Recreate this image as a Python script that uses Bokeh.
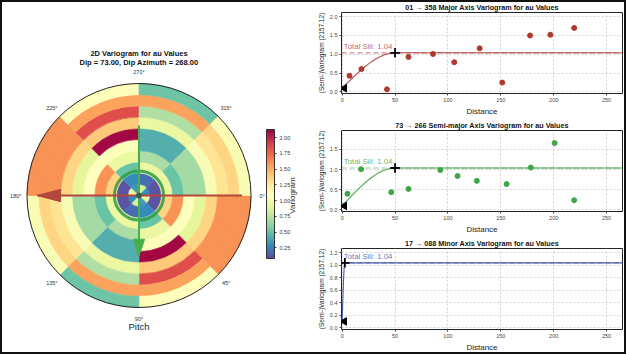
import numpy as np
from bokeh.plotting import figure
from bokeh.models import (Range1d, ColumnDataSource, LinearColorMapper, ColorBar,
                          FixedTicker, PrintfTickFormatter)
from bokeh.layouts import row, column
from bokeh.core.properties import value
from bokeh.embed import file_html
from bokeh.resources import INLINE

FONT = "Liberation Sans"

# ---------------- 2D variogram map data ----------------
ring_edges = [0, 1, 2, 3, 4, 5, 6, 7, 8, 9, 10]          # lag bins (ring units)
sector_edges = [0, 45, 90, 135, 180, 225, 270, 315, 360]  # degrees, clockwise from 0°
# variogram per sector, rings inner -> outer
sec_000_045 = [0.95, 0.10, 1.35, 1.60, 1.10, 0.92, 1.35, 1.60, 1.60, 1.60]
sec_045_090 = [0.35, 0.30, 0.50, 0.95, 1.08, 2.10, 1.40, 1.85, 1.55, 1.08]
sec_090_135 = [0.85, 0.20, 0.95, 0.70, 0.42, 0.42, 0.95, 0.72, 1.55, 0.52]
sec_135_180 = [0.30, 0.10, 0.95, 0.50, 0.68, 0.68, 1.05, 1.28, 1.35, 1.05]
sec_180_225 = [0.95, 0.10, 1.35, 1.60, 1.10, 0.92, 1.35, 1.60, 1.60, 1.60]
sec_225_270 = [0.35, 0.30, 0.50, 0.95, 1.08, 2.10, 1.40, 1.85, 1.55, 1.08]
sec_270_315 = [0.85, 0.20, 0.95, 0.70, 0.42, 0.42, 0.95, 0.72, 1.55, 0.52]
sec_315_360 = [0.30, 0.10, 0.95, 0.50, 0.68, 0.68, 1.05, 1.28, 1.35, 1.05]
sectors = [sec_000_045, sec_045_090, sec_090_135, sec_135_180,
           sec_180_225, sec_225_270, sec_270_315, sec_315_360]

angle_ticks = [0, 45, 90, 135, 180, 225, 270, 315]
angle_labels = ["0°", "45°", "90°", "135°", "180°", "225°", "270°", "315°"]

cbar_low, cbar_high = 0.08, 2.13
cbar_ticks = [0.25, 0.50, 0.75, 1.00, 1.25, 1.50, 1.75, 2.00]

range_circle_r = 2.2
major_dir, major_len, major_tail = 180, 9.1, 9.2
semi_dir, semi_len, semi_tail = 90, 5.4, 6.25

# ---------------- 1D variogram data ----------------
major_lag = [6.9, 18.2, 42.3, 62.7, 85.9, 106.0, 130.0, 151.4, 177.7, 196.9, 219.4]
major_gam = [0.43, 0.61, 0.07, 0.93, 1.01, 0.79, 1.16, 0.25, 1.50, 1.52, 1.70]
semi_lag = [5.0, 17.9, 46.4, 62.7, 92.8, 109.1, 127.3, 155.5, 178.4, 200.9, 219.4]
semi_gam = [0.40, 1.01, 0.44, 0.52, 0.99, 0.84, 0.72, 0.64, 1.05, 1.66, 0.24]
minor_lag = []
minor_gam = []
total_sill = 1.04
nugget = 0.10
major_range, semi_range, minor_range = 50, 50, 2.5
x_ticks = [0, 50, 100, 150, 200, 250]

# ---------------- colours ----------------
SPECTRAL_R = ["#5e4fa2", "#3288bd", "#66c2a5", "#abdda4", "#e6f598", "#ffffbf",
              "#fee08b", "#fdae61", "#f46d43", "#d53e4f", "#9e0142"]


def interp(pal, n):
    rgb = np.array([[int(c[i:i + 2], 16) for i in (1, 3, 5)] for c in pal], float)
    t = np.linspace(0, len(pal) - 1, n)
    out = []
    for tt in t:
        i = min(int(tt), len(pal) - 2)
        f = tt - i
        c = rgb[i] * (1 - f) + rgb[i + 1] * f
        out.append("#%02x%02x%02x" % tuple(int(round(v)) for v in c))
    return out


mapper = LinearColorMapper(palette=interp(SPECTRAL_R, 256), low=cbar_low, high=cbar_high)

# ---------------- polar figure ----------------
PX = 11.2
WL, H = 314, 354
CX, CY = 138.5, 195
pf = figure(width=WL, height=H, x_range=Range1d(-CX / PX, (WL - CX) / PX),
            y_range=Range1d(-(H - CY) / PX, CY / PX), output_backend="svg",
            toolbar_location=None, x_axis_location=None, y_axis_location=None,
            min_border=0)
pf.grid.visible = False
pf.outline_line_color = None
pf.border_fill_color = None
pf.background_fill_color = None

inner, outer, start, end, vals = [], [], [], [], []
for k, sv in enumerate(sectors):
    a0, a1 = sector_edges[k], sector_edges[k + 1]
    for j, v in enumerate(sv):
        inner.append(ring_edges[j]); outer.append(ring_edges[j + 1])
        start.append(-np.deg2rad(a1)); end.append(-np.deg2rad(a0)); vals.append(v)
wsrc = ColumnDataSource(dict(inner=inner, outer=outer, start=start, end=end, v=vals))
pf.annular_wedge(x=0, y=0, inner_radius="inner", outer_radius="outer",
                 start_angle="start", end_angle="end", source=wsrc,
                 fill_color={"field": "v", "transform": mapper},
                 line_color={"field": "v", "transform": mapper}, line_width=0.6)
pf.circle(x=0, y=0, radius=ring_edges[-1], fill_color=None, line_color="#222222", line_width=1)
pf.circle(x=0, y=0, radius=range_circle_r, fill_color=None, line_color="#2f9a48",
          line_width=3, line_alpha=0.85)


def arrow(p, d_deg, length, tail, color, head_len, head_w, lw):
    th = np.deg2rad(d_deg)
    dx, dy = np.cos(th), -np.sin(th)
    tip = np.array([dx * length, dy * length])
    tl = np.array([-dx * tail, -dy * tail])
    p.line([tl[0], tip[0]], [tl[1], tip[1]], line_color=color, line_width=lw)
    base = tip - np.array([dx, dy]) * head_len
    nx, ny = -dy, dx
    p.patch([tip[0], base[0] + nx * head_w, base[0] - nx * head_w],
            [tip[1], base[1] + ny * head_w, base[1] - ny * head_w],
            fill_color=color, line_color=color)


arrow(pf, major_dir, major_len, major_tail, "#b3473b", 2.1, 0.55, 2)
arrow(pf, semi_dir, semi_len, semi_tail, "#46b04c", 1.5, 0.5, 2)
pf.scatter([0], [0], size=5, color="#3d5c45")

lab_r = 11.0
pf.text(x=[lab_r * np.cos(np.deg2rad(a)) for a in angle_ticks],
        y=[-lab_r * np.sin(np.deg2rad(a)) for a in angle_ticks],
        text=angle_labels, text_font=value(FONT), text_font_size="5.5px",
        text_color="#333333", text_align="center", text_baseline="middle")
pf.text(x=[0, 0], y=[(CY - 53) / PX, (CY - 62) / PX],
        text=["2D Variogram for au Values", "Dip = 73.00, Dip Azimuth = 268.00"],
        text_font=value(FONT), text_font_size="7.5px", text_font_style="bold",
        text_color="#111111", text_align="center", text_baseline="middle")
pf.text(x=[0], y=[(CY - 326) / PX], text=["Pitch"], text_font=value(FONT),
        text_font_size="9.5px", text_color="#222222", text_align="center",
        text_baseline="middle")
pf.text(x=[(292 - CX) / PX], y=[0], text=["Variogram"], angle=np.pi / 2,
        text_font=value(FONT), text_font_size="8px", text_color="#222222",
        text_align="center", text_baseline="middle")

cb = ColorBar(color_mapper=mapper, location=(266, 96), width=8, height=129,
              padding=0, margin=0, ticker=FixedTicker(ticks=cbar_ticks),
              formatter=PrintfTickFormatter(format="%.2f"),
              major_label_text_font=FONT, major_label_text_font_size="5.5px",
              major_label_text_color="#333333",
              major_tick_in=0, major_tick_out=2, major_tick_line_color="#333333",
              bar_line_color="#333333", background_fill_color=None,
              label_standoff=3)
pf.add_layout(cb)


# ---------------- 1D variogram figures ----------------
def spherical(h, c0, c, a):
    h = np.asarray(h, float)
    g = np.where(h < a, c0 + (c - c0) * (1.5 * h / a - 0.5 * (h / a) ** 3), c)
    return g


def vario_fig(title, color, lcolor, lags, gam, yr, yticks, fmt, rng, h):
    p = figure(width=312, height=h, x_range=Range1d(-0.66, 265.1), y_range=Range1d(*yr),
               output_backend="svg", toolbar_location=None,
               min_border_left=26, min_border_right=4, min_border_top=0,
               min_border_bottom=0)
    p.border_fill_color = None
    p.title.text = title
    p.title.align = "center"
    p.title.text_font = FONT
    p.title.text_font_size = "7.2px"
    p.title.text_color = "#111111"
    p.title.standoff = 1
    p.outline_line_color = "#222222"
    p.outline_line_width = 1
    p.grid.grid_line_color = "#c8c8c8"
    p.grid.grid_line_dash = "2 2"
    p.grid.grid_line_alpha = 0.8
    p.xaxis.ticker = FixedTicker(ticks=x_ticks)
    p.yaxis.ticker = FixedTicker(ticks=yticks)
    p.yaxis.formatter = PrintfTickFormatter(format=fmt)
    for ax in (p.xaxis[0], p.yaxis[0]):
        ax.major_label_text_font = FONT
        ax.major_label_text_font_size = "5.5px"
        ax.major_label_text_color = "#444444"
        ax.axis_label_text_font = FONT
        ax.axis_label_text_font_style = "normal"
        ax.axis_label_text_color = "#222222"
        ax.major_tick_out = 2
        ax.major_tick_in = 0
        ax.minor_tick_line_color = None
        ax.major_label_standoff = 2
        ax.axis_label_standoff = 2
        ax.axis_line_color = None
        ax.major_tick_line_color = "#444444"
    p.xaxis.axis_label = "Distance"
    p.xaxis.axis_label_text_font_size = "8px"
    p.yaxis.axis_label = "(Semi-)Variogram (2157.12)"
    p.yaxis.axis_label_text_font_size = "6.5px"

    hh = list(np.linspace(0, rng, 80)) + [265.1]
    p.line(hh, list(spherical(hh, nugget, total_sill, rng)), line_color=lcolor, line_width=1.1)
    p.line([-0.66, 265.1], [total_sill, total_sill], line_color=lcolor, line_alpha=0.6,
           line_dash="5 3", line_width=1.2)
    if lags:
        p.scatter(lags, gam, size=5, fill_color=color, line_color=color)
    p.scatter([2], [nugget], marker="triangle", angle=np.pi / 2, size=7.5, color="black")
    p.scatter([rng], [total_sill], marker="cross", size=9.5, line_width=1.8, color="black")
    p.text(x=[1.5], y=[total_sill], y_offset=-2, text=["Total Sill: 1.04"],
           text_font=value(FONT), text_font_size="7.8px", text_color=lcolor, text_alpha=0.85,
           text_baseline="bottom", text_align="left")
    return p


f1 = vario_fig("01 → 358 Major Axis Variogram for au Values", "#b0392f", "#b84848",
               major_lag, major_gam, (-0.04, 2.11), [0, 0.5, 1.0, 1.5, 2.0], "%.1f",
               major_range, 118)
f2 = vario_fig("73 → 266 Semi-major Axis Variogram for au Values", "#3ea646", "#4aa84e",
               semi_lag, semi_gam, (-0.04, 1.97), [0, 0.5, 1.0, 1.5], "%.1f",
               semi_range, 118)
f3 = vario_fig("17 → 088 Minor Axis Variogram for au Values", "#4c5aa8", "#4c5aa8",
               minor_lag, minor_gam, (-0.03, 1.27), [0, 0.2, 0.4, 0.6, 0.8, 1.0, 1.2], "%.1f",
               minor_range, 118)

layout = row(pf, column(f1, f2, f3, spacing=0), spacing=0,
             styles={"box-shadow": "inset 0 0 0 2px #111", "background-color": "white"})

open("out.html", "w").write(file_html(layout, INLINE))
